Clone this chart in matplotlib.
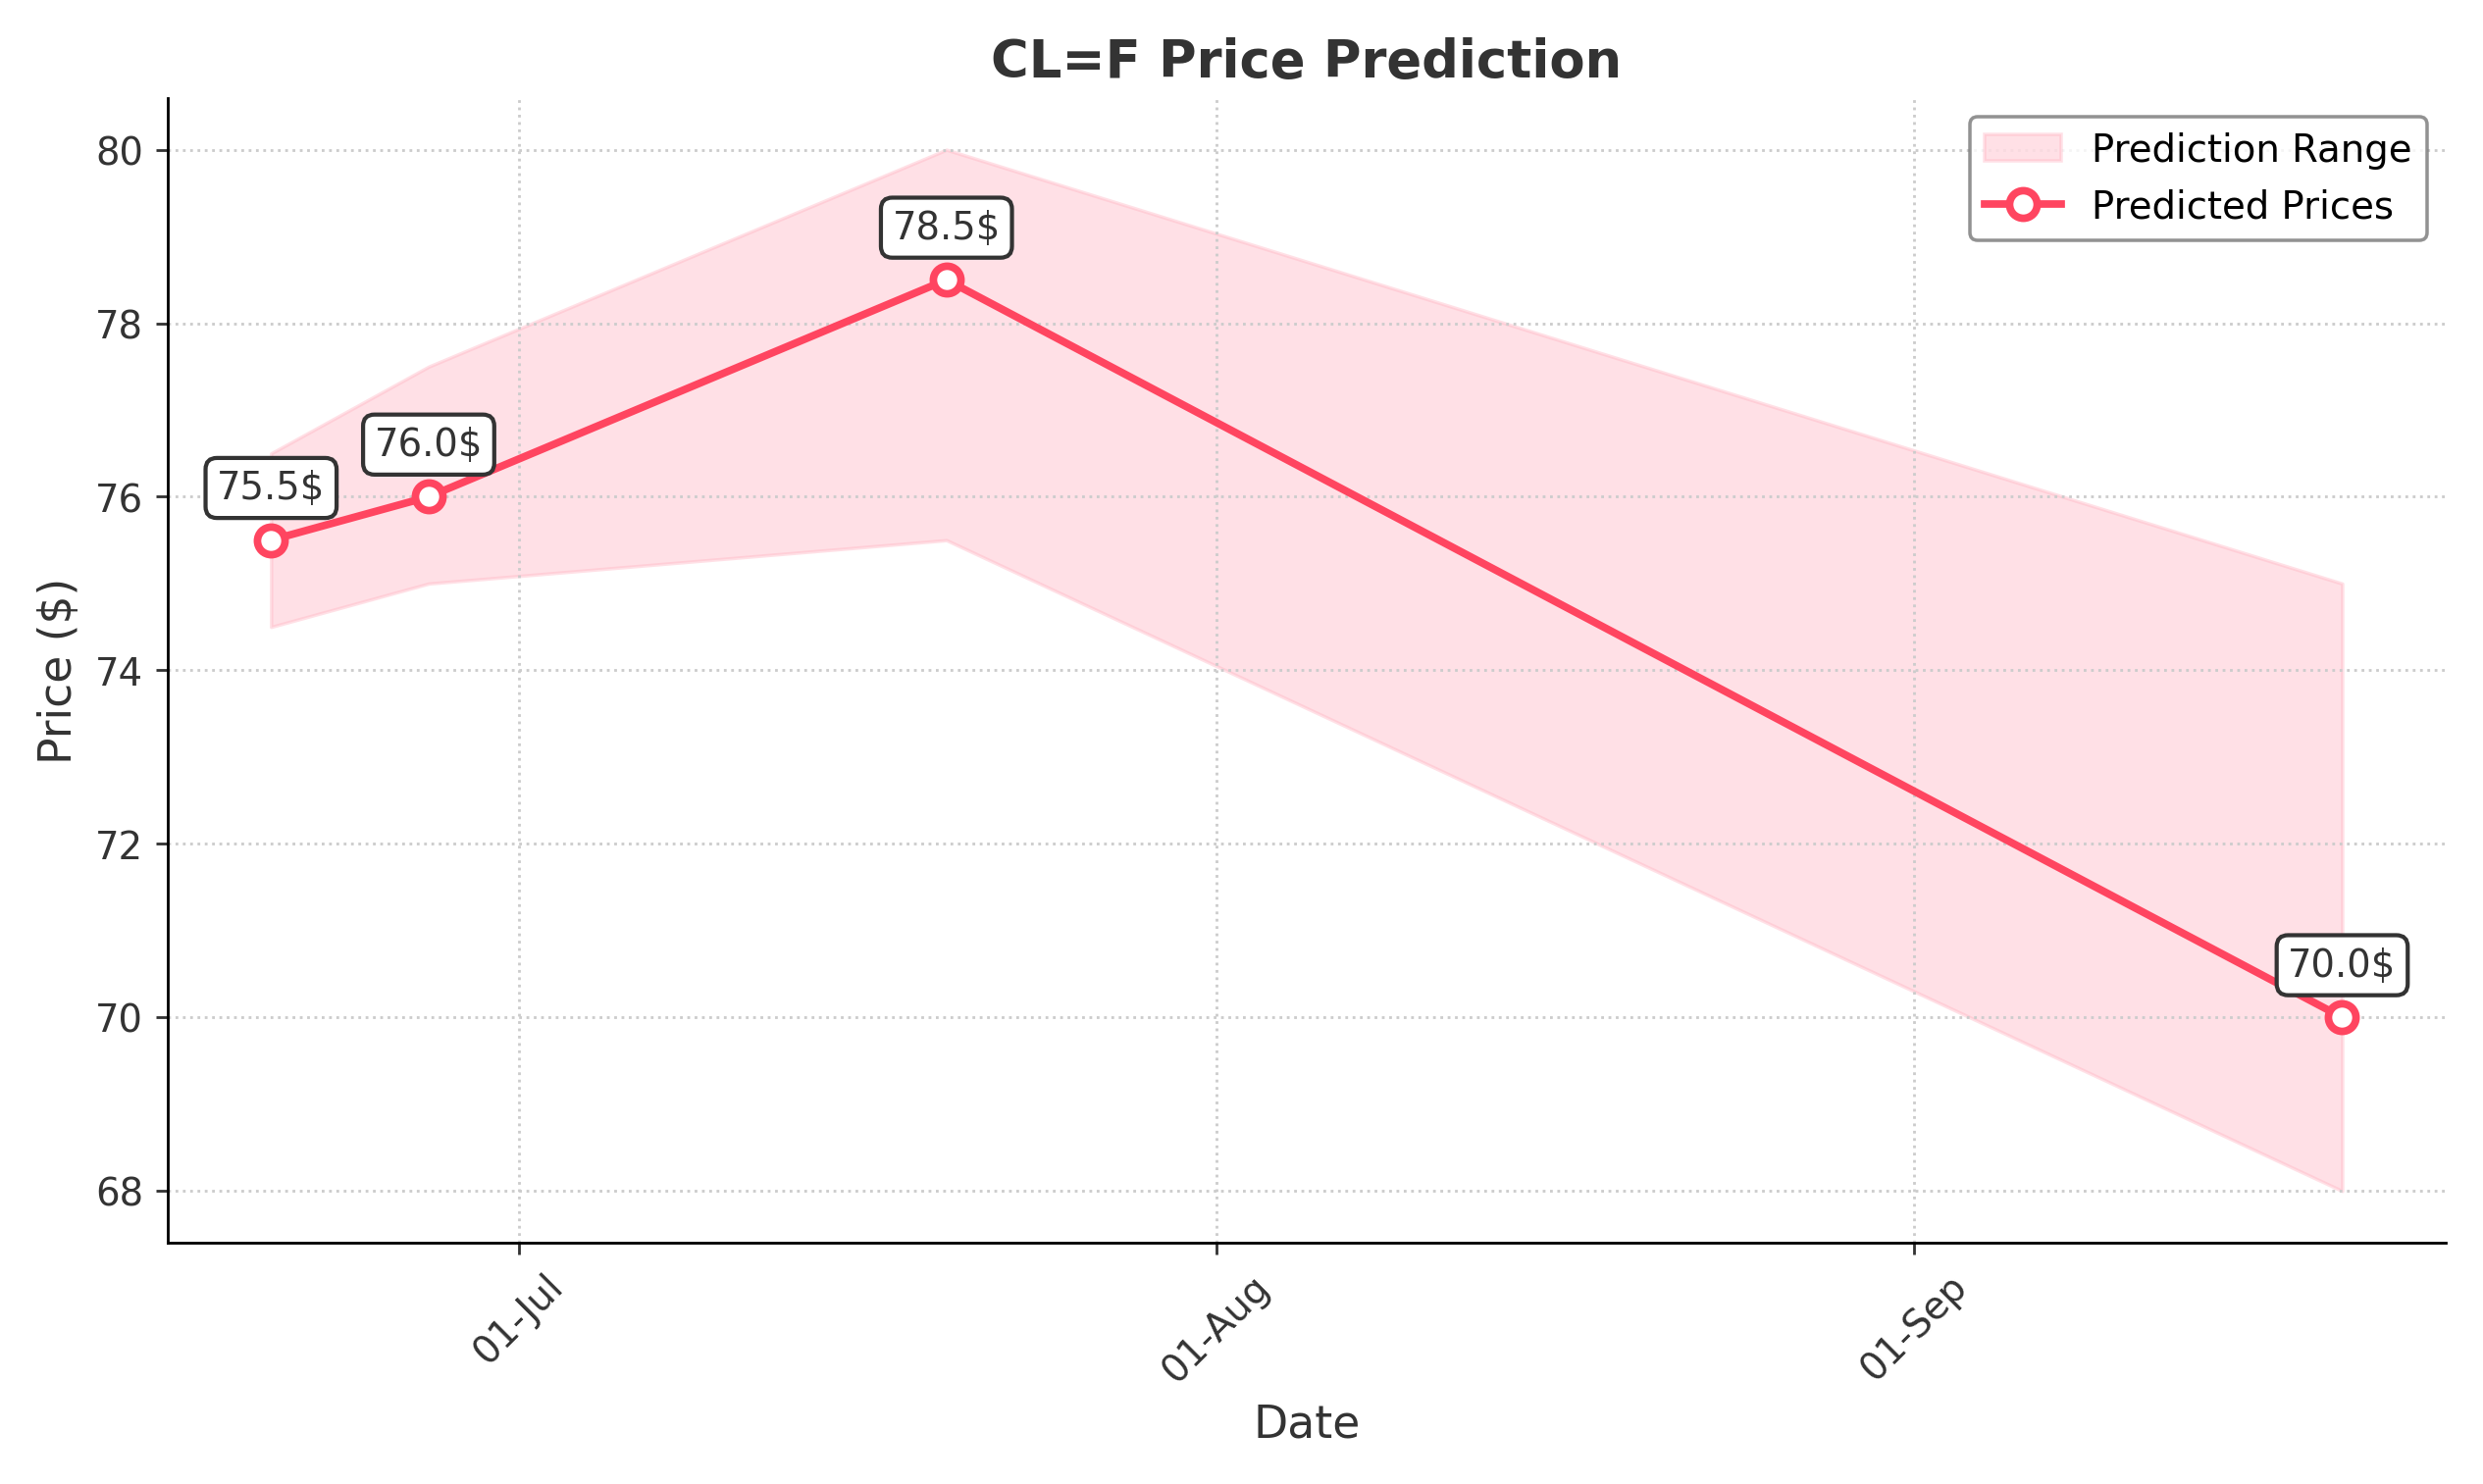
import matplotlib
matplotlib.use("Agg")
import matplotlib.pyplot as plt
import matplotlib.dates as mdates
import pandas as pd

dates = pd.to_datetime(["2024-06-20", "2024-06-27", "2024-07-20", "2024-09-20"])
predicted = [75.5, 76.0, 78.5, 70.0]
lower = [74.5, 75.0, 75.5, 68.0]
upper = [76.5, 77.5, 80.0, 75.0]

color = "#ff4560"
fig, ax = plt.subplots(figsize=(10, 5.98), dpi=253.1)
ax.fill_between(dates, lower, upper, color="#ffb3c1", alpha=0.4, label="Prediction Range")
ax.plot(dates, predicted, color=color, lw=2.2, marker="o", markersize=8,
        markerfacecolor="white", markeredgewidth=2.2, label="Predicted Prices")
for d, p in zip(dates, predicted):
    ax.annotate(f"{p}$", (d, p), xytext=(0, 12), textcoords="offset points", ha="center",
                fontsize=11, color="#333333",
                bbox=dict(boxstyle="round,pad=0.3", fc="white", ec="#333333", lw=1.2))
ax.set_title("CL=F Price Prediction", fontsize=15, fontweight="bold", color="#333333")
ax.set_xlabel("Date", fontsize=13, color="#333333")
ax.set_ylabel("Price ($)", fontsize=13, color="#333333")
ax.xaxis.set_major_locator(mdates.MonthLocator())
ax.xaxis.set_major_formatter(mdates.DateFormatter("%d-%b"))
plt.setp(ax.get_xticklabels(), rotation=45)
ax.tick_params(labelsize=11, colors="#333333")
ax.grid(True, ls=":", color="#cccccc")
for s in ["top", "right"]:
    ax.spines[s].set_visible(False)
ax.legend(loc="upper right", fontsize=11, edgecolor="#777777")
fig.tight_layout()
fig.savefig("out.png")
